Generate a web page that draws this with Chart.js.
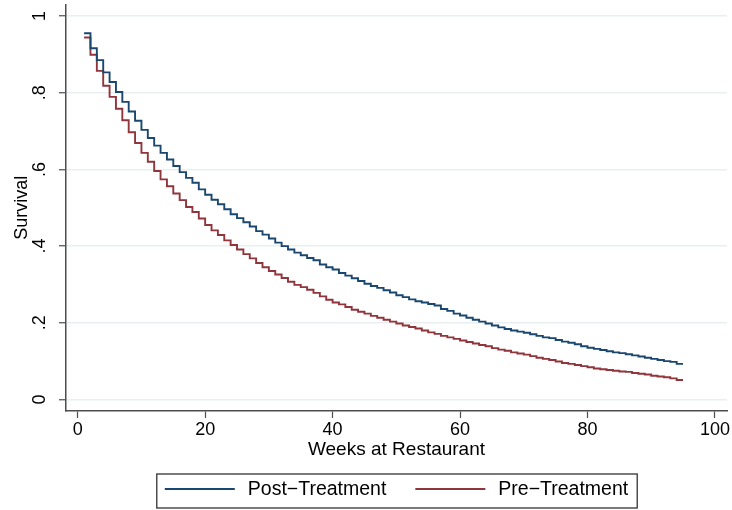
<!DOCTYPE html>
<html><head><meta charset="utf-8">
<script src="https://cdn.jsdelivr.net/npm/chart.js@4.4.1/dist/chart.umd.min.js"></script>
<style>html,body{margin:0;padding:0;background:#fff}#wrap{width:732px;height:510px;position:relative}</style>
</head><body><div id="wrap"><canvas id="c" width="732" height="510"></canvas></div>
<script>
const weeks = [1,2,3,4,5,6,7,8,9,10,11,12,13,14,15,16,17,18,19,20,21,22,23,24,25,26,27,28,29,30,31,32,33,34,35,36,37,38,39,40,41,42,43,44,45,46,47,48,49,50,51,52,53,54,55,56,57,58,59,60,61,62,63,64,65,66,67,68,69,70,71,72,73,74,75,76,77,78,79,80,81,82,83,84,85,86,87,88,89,90,91,92,93,94,95];
const postTreatment = [0.955,0.916,0.885,0.853,0.828,0.802,0.776,0.751,0.727,0.703,0.682,0.662,0.643,0.626,0.609,0.593,0.578,0.565,0.548,0.534,0.521,0.509,0.496,0.483,0.473,0.462,0.451,0.439,0.430,0.420,0.409,0.400,0.391,0.383,0.376,0.369,0.363,0.352,0.345,0.339,0.330,0.323,0.316,0.309,0.302,0.296,0.291,0.285,0.279,0.272,0.267,0.261,0.256,0.253,0.249,0.245,0.236,0.231,0.224,0.219,0.213,0.208,0.203,0.198,0.193,0.188,0.184,0.180,0.177,0.174,0.170,0.166,0.162,0.160,0.155,0.151,0.148,0.144,0.139,0.135,0.132,0.129,0.126,0.123,0.121,0.118,0.115,0.112,0.109,0.106,0.103,0.100,0.098,0.093,0.093];
const preTreatment = [0.944,0.899,0.857,0.818,0.789,0.758,0.728,0.697,0.669,0.643,0.620,0.596,0.574,0.556,0.537,0.520,0.502,0.489,0.472,0.455,0.441,0.429,0.415,0.403,0.391,0.379,0.368,0.356,0.345,0.335,0.326,0.317,0.307,0.299,0.293,0.286,0.278,0.269,0.260,0.253,0.248,0.241,0.234,0.229,0.224,0.218,0.213,0.208,0.203,0.198,0.193,0.189,0.185,0.180,0.175,0.171,0.166,0.162,0.158,0.154,0.150,0.146,0.142,0.139,0.134,0.130,0.127,0.123,0.120,0.117,0.113,0.109,0.106,0.103,0.099,0.095,0.093,0.090,0.087,0.084,0.081,0.079,0.077,0.075,0.073,0.072,0.069,0.067,0.065,0.062,0.060,0.058,0.055,0.051,0.051];
const seriesLabels = ['Post\u2212Treatment', 'Pre\u2212Treatment'];
const xTicks = [0, 20, 40, 60, 80, 100];
const yTicks = [0, 0.2, 0.4, 0.6, 0.8, 1];
const yTickLabels = ['0', '.2', '.4', '.6', '.8', '1'];
const xTitle = 'Weeks at Restaurant';
const yTitle = 'Survival';

const FONT = '"Liberation Sans", Arial, Helvetica, sans-serif';
const BLUE = '#1a476f';
const RED = '#90353b';
const AXIS = '#4d4d4d';
const GRID = '#e9eff1';

const yLabelPlugin = {
  id: 'yLabels',
  afterDraw(chart) {
    const ctx = chart.ctx, ys = chart.scales.y;
    ctx.save();
    ctx.font = '18px ' + FONT;
    ctx.fillStyle = '#000';
    ctx.textAlign = 'center';
    ctx.textBaseline = 'middle';
    yTicks.forEach((v, i) => {
      const py = ys.getPixelForValue(v);
      ctx.save();
      ctx.translate(40, py);
      ctx.rotate(-Math.PI / 2);
      ctx.fillText(yTickLabels[i], 0, 0);
      ctx.restore();
    });
    ctx.restore();
  }
};

const legendPlugin = {
  id: 'boxLegend',
  afterDraw(chart) {
    const ctx = chart.ctx, ca = chart.chartArea;
    const ds = chart.data.datasets;
    ctx.save();
    ctx.font = '19.5px ' + FONT;
    const lineW = 70, gapT = 13, gapI = 29;
    const widths = ds.map(d => ctx.measureText(d.label).width);
    let total = 0;
    widths.forEach((w, i) => { total += lineW + gapT + w + (i < widths.length - 1 ? gapI : 0); });
    const cx = (ca.left + ca.right) / 2;
    let x = cx - total / 2;
    const boxL = x - 8, boxR = x + total + 9;
    ctx.strokeStyle = '#333';
    ctx.lineWidth = 1.3;
    ctx.strokeRect(boxL, 474, boxR - boxL, 34);
    const yMid = 489;
    ds.forEach((d, i) => {
      ctx.strokeStyle = d.borderColor;
      ctx.lineWidth = 1.8;
      ctx.beginPath();
      ctx.moveTo(x, yMid);
      ctx.lineTo(x + lineW, yMid);
      ctx.stroke();
      ctx.fillStyle = '#000';
      ctx.textAlign = 'left';
      ctx.textBaseline = 'middle';
      ctx.fillText(d.label, x + lineW + gapT, yMid + 1);
      x += lineW + gapT + widths[i] + gapI;
    });
    ctx.restore();
  }
};

new Chart(document.getElementById('c'), {
  type: 'line',
  data: {
    datasets: [
      { label: seriesLabels[0], data: weeks.map((w, i) => ({ x: w, y: postTreatment[i] })),
        borderColor: BLUE, backgroundColor: BLUE, borderWidth: 1.9, stepped: 'before', pointRadius: 0, fill: false },
      { label: seriesLabels[1], data: weeks.map((w, i) => ({ x: w, y: preTreatment[i] })),
        borderColor: RED, backgroundColor: RED, borderWidth: 1.9, stepped: 'before', pointRadius: 0, fill: false }
    ]
  },
  options: {
    responsive: false,
    animation: false,
    devicePixelRatio: 1,
    layout: { padding: { left: 0, right: 5, top: 4.5, bottom: 48.6 } },
    plugins: { legend: { display: false }, tooltip: { enabled: false } },
    scales: {
      x: {
        type: 'linear', min: -1.84, max: 101.9,
        afterBuildTicks: s => { s.ticks = xTicks.map(v => ({ value: v })); },
        afterFit: s => { s.height = 50.4; },
        grid: { drawOnChartArea: false, drawTicks: true, tickLength: 7, tickColor: AXIS, tickWidth: 1.2, color: AXIS },
        border: { display: true, color: AXIS, width: 1.5 },
        ticks: { font: { family: FONT, size: 18 }, color: '#000', padding: 1, maxRotation: 0, autoSkip: false },
        title: { display: true, text: xTitle, font: { family: FONT, size: 19 }, color: '#000', padding: 0 }
      },
      y: {
        type: 'linear', min: -0.03, max: 1.03,
        afterBuildTicks: s => { s.ticks = yTicks.map(v => ({ value: v })); },
        afterFit: s => { s.width = 66; },
        grid: { drawOnChartArea: true, color: GRID, lineWidth: 1.5, drawTicks: true, tickLength: 7, tickColor: AXIS, tickWidth: 1.2 },
        border: { display: true, color: AXIS, width: 1.5 },
        ticks: { display: false },
        title: { display: true, text: yTitle, font: { family: FONT, size: 18 }, color: '#000', padding: { top: 11, bottom: 0 } }
      }
    }
  },
  plugins: [yLabelPlugin, legendPlugin]
});
</script>
</body></html>
